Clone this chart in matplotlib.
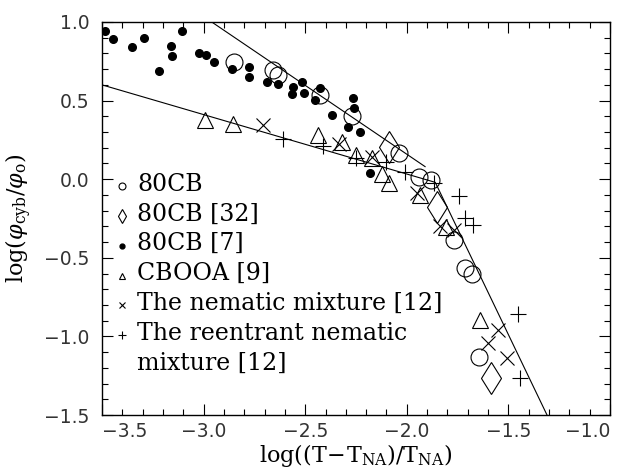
import matplotlib
matplotlib.use('Agg')
import matplotlib.pyplot as plt
from matplotlib.ticker import MultipleLocator

# 80CB (open circles)
cb8_x = [-2.848, -2.659, -2.632, -2.428, -2.272, -2.039, -1.941, -1.880, -1.770, -1.712, -1.680, -1.647]
cb8_y = [0.747, 0.695, 0.663, 0.536, 0.399, 0.165, 0.017, -0.005, -0.387, -0.562, -0.606, -1.133]

# 80CB [32] (diamonds)
cb8_32_x = [-2.088, -1.851, -1.585]
cb8_32_y = [0.202, -0.175, -1.267]

# 80CB [7] (filled dots)
cb8_7_x = [-3.485, -3.445, -3.354, -3.293, -3.219, -3.158, -3.155, -3.108, -3.023, -2.990,
           -2.949, -2.859, -2.779, -2.779, -2.690, -2.632, -2.562, -2.565, -2.516, -2.505,
           -2.451, -2.428, -2.366, -2.265, -2.260, -2.288, -2.232, -2.179]
cb8_7_y = [0.945, 0.892, 0.843, 0.896, 0.690, 0.847, 0.786, 0.945, 0.801, 0.790,
           0.746, 0.699, 0.716, 0.652, 0.620, 0.604, 0.588, 0.539, 0.620, 0.550,
           0.502, 0.578, 0.406, 0.517, 0.456, 0.330, 0.300, 0.041]

# CBOOA [9] (triangles)
cbooa_x = [-2.992, -2.856, -2.436, -2.319, -2.251, -2.172, -2.121, -2.088, -1.933, -1.806, -1.639]
cbooa_y = [0.377, 0.351, 0.281, 0.237, 0.154, 0.135, 0.033, -0.021, -0.101, -0.307, -0.896]

# nematic mixture [12] (crosses)
nem_x = [-2.706, -2.336, -2.170, -1.949, -1.835, -1.770, -1.552, -1.601, -1.508]
nem_y = [0.345, 0.227, 0.143, -0.090, -0.298, -0.323, -0.959, -1.044, -1.139]

# reentrant nematic mixture [12] (pluses)
reen_x = [-2.608, -2.414, -2.250, -2.103, -2.010, -1.868, -1.745, -1.712, -1.672, -1.454, -1.443]
reen_y = [0.256, 0.211, 0.132, 0.109, 0.046, -0.026, -0.110, -0.249, -0.291, -0.859, -1.267]

# fitted lines
upper_x = [-2.96, -1.91]
upper_y = [1.0, 0.08]
lower_x = [-3.5, -1.86, -1.31]
lower_y = [0.60, -0.02, -1.5]

xticks = [-3.5, -3.0, -2.5, -2.0, -1.5, -1.0]
xtick_labels = ['\u22123.5', '\u22123.0', '\u22122.5', '\u22122.0', '\u22121.5', '\u22121.0']
yticks = [-1.5, -1.0, -0.5, 0.0, 0.5, 1.0]
ytick_labels = ['\u22121.5', '\u22121.0', '\u22120.5', '0.0', '0.5', '1.0']

labels = ['80CB', '80CB [32]', '80CB [7]', 'CBOOA [9]',
          'The nematic mixture [12]', 'The reentrant nematic\nmixture [12]']

plt.rcParams['mathtext.fontset'] = 'dejavuserif'

fig = plt.figure(figsize=(6.18, 4.73), dpi=100)
ax = fig.add_axes([0.16505, 0.12262, 0.82201, 0.83087])

lw = 0.8
ax.plot(upper_x, upper_y, color='black', lw=lw)
ax.plot(lower_x, lower_y, color='black', lw=lw)

ax.plot(cb8_x, cb8_y, 'o', ms=12.2, mfc='none', mec='black', mew=0.8)
ax.plot(cb8_32_x, cb8_32_y, 'd', ms=16.5, mfc='none', mec='black', mew=0.8)
ax.plot(cb8_7_x, cb8_7_y, 'o', ms=5.5, color='black')
ax.plot(cbooa_x, cbooa_y, '^', ms=11.5, mfc='none', mec='black', mew=0.8)
ax.plot(nem_x, nem_y, 'x', ms=9.5, color='black', mew=0.8)
ax.plot(reen_x, reen_y, '+', ms=11, color='black', mew=0.8)

ax.set_xlim(-3.5, -1.0)
ax.set_ylim(-1.5, 1.0)
ax.set_xticks(xticks, xtick_labels)
ax.set_yticks(yticks, ytick_labels)
ax.xaxis.set_minor_locator(MultipleLocator(0.1))
ax.yaxis.set_minor_locator(MultipleLocator(0.1))
ax.tick_params(which='both', direction='in', top=True, right=True, width=0.8)
ax.tick_params(which='major', length=7.7)
ax.tick_params(which='minor', length=4.1)
ax.tick_params(axis='x', pad=5)
ax.tick_params(axis='y', pad=9)
for sp in ax.spines.values():
    sp.set_linewidth(1.0)

for t in ax.get_xticklabels() + ax.get_yticklabels():
    t.set_fontsize(13.5)
    t.set_fontfamily('DejaVu Sans')
    t.set_color('#333333')
xl = ax.get_xticklabels()
xl[0].set_ha('left')
xl[-1].set_ha('right')

ax.set_xlabel(r'$\mathrm{log((T\!-\!T_{NA})/T_{NA})}$', fontsize=16, labelpad=1)
ax.set_ylabel(r'$\mathrm{log}(\varphi_{\mathrm{cyb}}/\varphi_{\mathrm{o}})$', fontsize=16)
ax.yaxis.set_label_coords(-0.134, 0.5)

# legend drawn by hand, symbols left of the labels
styles = [dict(marker='o', ms=5, mfc='none', mec='black', mew=0.8),
          dict(marker='d', ms=7, mfc='none', mec='black', mew=0.8),
          dict(marker='o', ms=3.5, color='black'),
          dict(marker='^', ms=5, mfc='none', mec='black', mew=0.8),
          dict(marker='x', ms=4.5, color='black', mew=0.8),
          dict(marker='+', ms=6, color='black', mew=0.8)]
row_px = 181.7
step_px = 29.8
for lab, st in zip(labels, styles):
    yf = (415 - row_px - 4.5) / 393
    ax.plot([0.039], [yf], transform=ax.transAxes, linestyle='none', clip_on=False, **st)
    for line in lab.split('\n'):
        yt = (415 - row_px) / 393
        ax.text(0.069, yt, line, transform=ax.transAxes, fontsize=17,
                family='DejaVu Serif', va='center_baseline', ha='left')
        row_px += step_px

fig.savefig('out.png', dpi=100)
